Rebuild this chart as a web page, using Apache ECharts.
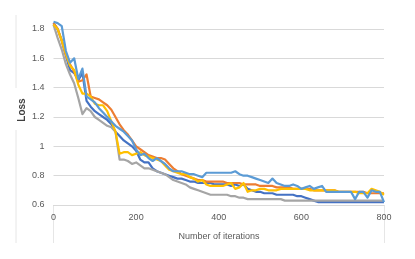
<!DOCTYPE html>
<html>
<head>
<meta charset="utf-8">
<script src="https://cdn.jsdelivr.net/npm/echarts@6/dist/echarts.min.js"></script>
<style>html,body{margin:0;padding:0;background:#fff;}#c{width:415px;height:259px;}</style>
</head>
<body>
<div id="c"></div>
<script>
const iterations = [0,10,20,30,40,50,60,70,80,90,100,110,120,130,140,150,160,170,180,190,200,210,220,230,240,250,260,270,280,290,300,310,320,330,340,350,360,370,380,390,400,410,420,430,440,450,460,470,480,490,500,510,520,530,540,550,560,570,580,590,600,610,620,630,640,650,660,670,680,690,700,710,720,730,740,750,760,770,780,790,800];
const xTicks = [0,200,400,600,800];
const yTicks = [0.6,0.8,1.0,1.2,1.4,1.6,1.8];
const seriesNames = ['Series 1','Series 2','Series 3','Series 4','Series 5'];
const darkBlue = [1.84,1.80,1.72,1.62,1.52,1.50,1.45,1.50,1.31,1.27,1.24,1.22,1.20,1.18,1.15,1.10,1.07,1.04,1.02,1.00,0.97,0.91,0.89,0.89,0.85,0.83,0.82,0.81,0.80,0.79,0.78,0.78,0.77,0.76,0.76,0.75,0.75,0.75,0.75,0.74,0.74,0.74,0.74,0.73,0.74,0.73,0.74,0.71,0.70,0.69,0.69,0.68,0.68,0.68,0.67,0.67,0.67,0.67,0.67,0.66,0.66,0.65,0.64,0.63,0.62,0.62,0.62,0.62,0.62,0.62,0.62,0.62,0.62,0.62,0.62,0.62,0.62,0.62,0.62,0.62,0.62];
const orange = [1.84,1.80,1.72,1.62,1.56,1.51,1.44,1.45,1.49,1.34,1.33,1.32,1.30,1.28,1.25,1.20,1.15,1.11,1.08,1.04,1.00,0.98,0.96,0.94,0.93,0.92,0.92,0.91,0.88,0.85,0.83,0.81,0.80,0.79,0.78,0.77,0.77,0.76,0.76,0.76,0.76,0.76,0.75,0.75,0.75,0.75,0.74,0.74,0.74,0.74,0.73,0.73,0.73,0.73,0.72,0.72,0.72,0.72,0.71,0.71,0.71,0.71,0.71,0.70,0.70,0.70,0.70,0.70,0.70,0.69,0.69,0.69,0.69,0.69,0.69,0.69,0.68,0.68,0.68,0.68,0.68];
const gray = [1.83,1.74,1.66,1.56,1.49,1.43,1.33,1.22,1.26,1.24,1.20,1.18,1.16,1.14,1.13,1.10,0.91,0.91,0.90,0.88,0.89,0.87,0.85,0.85,0.84,0.83,0.82,0.81,0.79,0.77,0.76,0.75,0.74,0.72,0.71,0.70,0.69,0.68,0.67,0.67,0.67,0.67,0.67,0.66,0.66,0.65,0.65,0.64,0.64,0.64,0.64,0.64,0.64,0.64,0.64,0.64,0.63,0.63,0.63,0.63,0.63,0.63,0.63,0.63,0.63,0.63,0.63,0.63,0.63,0.63,0.63,0.63,0.63,0.63,0.63,0.63,0.63,0.63,0.63,0.63,0.63];
const yellow = [1.83,1.80,1.72,1.63,1.55,1.52,1.42,1.36,1.36,1.34,1.29,1.28,1.28,1.24,1.17,1.10,0.95,0.96,0.96,0.94,0.95,0.96,0.94,0.93,0.92,0.91,0.90,0.87,0.84,0.83,0.82,0.81,0.81,0.79,0.78,0.76,0.77,0.74,0.73,0.73,0.73,0.73,0.74,0.75,0.71,0.72,0.75,0.69,0.70,0.70,0.71,0.71,0.70,0.70,0.70,0.71,0.71,0.71,0.71,0.71,0.71,0.71,0.70,0.70,0.70,0.70,0.70,0.70,0.70,0.69,0.69,0.69,0.69,0.69,0.68,0.68,0.68,0.71,0.70,0.69,0.67];
const lightBlue = [1.85,1.84,1.82,1.65,1.57,1.60,1.46,1.53,1.34,1.32,1.30,1.26,1.23,1.20,1.17,1.14,1.12,1.10,1.07,1.04,0.98,0.94,0.95,0.92,0.90,0.92,0.90,0.88,0.85,0.83,0.83,0.83,0.82,0.81,0.81,0.80,0.79,0.82,0.82,0.82,0.82,0.82,0.82,0.82,0.83,0.81,0.80,0.80,0.79,0.78,0.77,0.76,0.75,0.78,0.75,0.74,0.73,0.73,0.74,0.73,0.71,0.72,0.73,0.71,0.72,0.73,0.69,0.69,0.69,0.69,0.69,0.69,0.69,0.64,0.69,0.69,0.65,0.70,0.69,0.69,0.62];
const colors = ['#4472C4','#ED7D31','#A5A5A5','#FFC000','#5B9BD5'];
const allSeries = [darkBlue, orange, gray, yellow, lightBlue];

const chart = echarts.init(document.getElementById('c'), null, {renderer:'canvas'});
chart.setOption({
  animation: false,
  backgroundColor: '#ffffff',
  grid: {left: 53.5, right: 31, top: 29, bottom: 54},
  xAxis: {
    type: 'value', min: 0, max: 800, interval: 200,
    axisLine: {show: true, lineStyle: {color: '#d9d9d9', width: 1}},
    axisTick: {show: false},
    splitLine: {show: false},
    axisLabel: {color: '#595959', fontSize: 9, fontFamily: 'Liberation Sans', margin: 8,
      formatter: v => xTicks.includes(v) ? String(v) : ''}
  },
  yAxis: {
    type: 'value', min: 0.6, max: 1.8, interval: 0.2,
    axisLine: {show: false},
    axisTick: {show: false},
    splitLine: {lineStyle: {color: '#d9d9d9', width: 1}},
    axisLabel: {color: '#595959', fontSize: 9, fontFamily: 'Liberation Sans', margin: 9,
      formatter: v => { const t = yTicks.find(k => Math.abs(k - v) < 1e-6); return t === undefined ? '' : String(Math.round(t*10)/10); }}
  },
  series: allSeries.map((arr, i) => ({
    name: seriesNames[i],
    type: 'line',
    data: iterations.map((it, j) => [it, arr[j]]),
    showSymbol: false,
    symbol: 'none',
    clip: false,
    lineStyle: {color: colors[i], width: 2.2, join: 'round'},
    itemStyle: {color: colors[i]}
  })),
  graphic: [
    {type: 'line', shape: {x1: 16, y1: 15, x2: 16, y2: 88}, style: {stroke: '#e6e6e6', lineWidth: 1}},
    {type: 'line', shape: {x1: 16, y1: 130, x2: 16, y2: 243}, style: {stroke: '#e6e6e6', lineWidth: 1}},
    {type: 'line', shape: {x1: 53.5, y1: 205, x2: 53.5, y2: 243}, style: {stroke: '#e6e6e6', lineWidth: 1}},
    {type: 'line', shape: {x1: 384.5, y1: 205, x2: 384.5, y2: 243}, style: {stroke: '#e6e6e6', lineWidth: 1}},
    {type: 'text', x: 22, y: 110, rotation: Math.PI/2, style: {text: 'Loss', fill: '#404040', font: 'bold 10px "Liberation Sans"', textAlign: 'center', textVerticalAlign: 'middle'}},
    {type: 'text', x: 219, y: 237, style: {text: 'Number of iterations', fill: '#595959', font: '9px "Liberation Sans"', textAlign: 'center', textVerticalAlign: 'middle'}}
  ]
});
</script>
</body>
</html>
